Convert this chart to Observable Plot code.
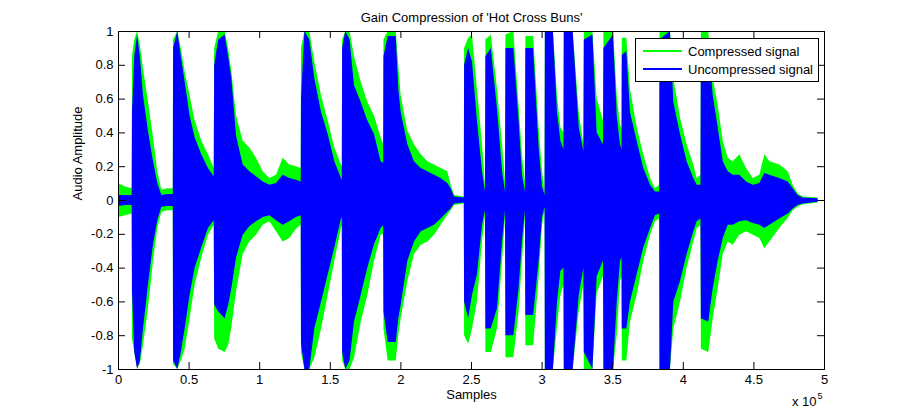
<!DOCTYPE html>
<html><head><meta charset="utf-8">
<script src="https://cdn.jsdelivr.net/npm/d3@7"></script>
<script src="https://cdn.jsdelivr.net/npm/@observablehq/plot@0.6"></script>
<style>
body{margin:0;background:#fff;}
#wrap{position:relative;width:910px;height:416px;font-family:"Liberation Sans",Arial,sans-serif;}
#legend{position:absolute;left:635px;top:38px;width:182px;height:42px;border:1px solid #000;background:#fff;font-size:13px;color:#000;}
.row{position:absolute;left:0;height:19px;white-space:nowrap;}
.sw{position:absolute;left:7px;top:8px;width:39px;height:2px;}
.lab{position:absolute;left:52px;top:1px;line-height:17px;}
</style></head>
<body><div id="wrap"></div>
<script>
// sample index (thousands of samples) of each envelope reading
const sampleK = [0,5,9.7,9.9,11.5,13.5,15.5,17.7,21.2,24.8,27.8,30.7,35,38.8,39.0,42,44.5,47.2,50.7,54.3,59,63.7,67.8,68.1,71,75.5,78,80.3,83.6,88.3,93,97.7,102.5,107.2,111.9,116.6,121.3,126,129.4,129.6,132,135.5,139,143.8,148.5,153.2,157.9,158.5,158.7,161,164,167.1,171.9,176.6,181.3,186,187.8,188.0,191,196.7,198.5,200.2,204.9,209.6,214.4,219.1,223.8,228.5,233.2,235.6,238,244.9,245.1,248,250.7,254.2,257.8,259.9,260.2,264,268.4,272,274.1,274.4,280,283.7,286.1,288.2,288.5,294,297.9,300.3,302.1,302.3,308,310.9,313.3,315.5,315.7,322,326.3,329.6,329.9,336,339,343.5,343.8,350.6,353.2,355.5,356.6,356.8,360,362.6,367.3,372,376.8,380.3,383.3,383.5,390.9,393.3,398,402.7,407.4,409.8,412.5,412.8,418,421.2,424.7,428.3,431.8,435.3,440,444.8,449.5,454.2,457.7,461.3,468.3,474.3,477.8,481.3,484.9,495.5];
const compressedUpper = [.10,.08,.07,.85,.95,1,.92,.78,.585,.37,.17,.06,.07,.07,.95,1,.90,.76,.62,.47,.35,.27,.19,.90,1,1,.90,.76,.50,.35,.31,.25,.17,.13,.15,.25,.21,.20,.19,.90,1,1,.82,.62,.47,.31,.21,.20,.95,1,1,.85,.70,.58,.50,.37,.33,.95,1,1,.80,.62,.41,.33,.27,.23,.21,.19,.17,.09,.03,.02,.90,.96,.98,.66,.33,.09,.95,.98,.66,.33,.11,.98,1,.56,.27,.11,.97,.97,.43,.17,.05,1,1,.62,.43,.40,1,1,.52,.33,1,1,.60,.47,1,1,.62,.45,.42,.96,.96,.66,.43,.27,.13,.07,.09,1,1,.72,.49,.33,.21,.13,.15,1,1,.72,.56,.35,.25,.23,.27,.19,.13,.15,.27,.23,.21,.17,.09,.04,.02,.015];
const uncompressedUpper = [.03,.03,.03,.52,.85,.98,.85,.62,.41,.23,.10,.03,.035,.035,.90,1,.85,.70,.50,.37,.27,.19,.14,.80,.95,.98,.85,.72,.38,.21,.17,.14,.11,.09,.10,.15,.13,.12,.11,.60,1,.95,.72,.52,.39,.23,.13,.12,.90,1,.95,.68,.58,.47,.39,.23,.22,.85,.97,.97,.66,.52,.33,.23,.19,.17,.15,.13,.10,.07,.02,.015,.80,.90,.82,.47,.17,.05,.85,.90,.54,.17,.05,.90,.90,.47,.15,.05,.90,.90,.31,.08,.03,1,1,.52,.35,.30,1,1,.43,.29,.95,.98,.40,.33,.90,.98,.50,.33,.30,.86,.88,.52,.35,.19,.09,.05,.05,.95,1,.58,.39,.23,.13,.09,.09,.95,.95,.62,.43,.23,.17,.15,.15,.11,.09,.10,.16,.15,.13,.11,.07,.03,.015,.01];
const uncompressedLower = [-.035,-.03,-.03,-.54,-.90,-1,-.95,-.76,-.50,-.26,-.12,-.04,-.035,-.035,-.95,-1,-.90,-.76,-.56,-.40,-.28,-.165,-.12,-.62,-.66,-.70,-.62,-.52,-.34,-.205,-.156,-.126,-.10,-.09,-.12,-.146,-.126,-.10,-.09,-.85,-1,-1,-.76,-.60,-.44,-.28,-.11,-.10,-.90,-1,-.95,-.72,-.56,-.40,-.26,-.165,-.15,-.66,-.84,-.84,-.70,-.62,-.36,-.245,-.185,-.165,-.146,-.11,-.07,-.05,-.02,-.015,-.60,-.70,-.56,-.44,-.146,-.06,-.76,-.76,-.64,-.245,-.06,-.80,-.80,-.52,-.245,-.06,-.68,-.68,-.36,-.10,-.04,-1,-1,-.60,-.42,-.40,-1,-1,-.56,-.40,-.90,-1,-.45,-.36,-1,-1,-.60,-.36,-.34,-.76,-.76,-.60,-.44,-.28,-.165,-.09,-.08,-1,-1,-.60,-.48,-.32,-.185,-.126,-.11,-.70,-.72,-.52,-.36,-.225,-.146,-.146,-.126,-.12,-.136,-.146,-.165,-.146,-.11,-.08,-.05,-.03,-.02,-.01];
const compressedLower = [-.10,-.09,-.08,-.82,-.90,-.99,-.97,-.86,-.64,-.36,-.165,-.07,-.06,-.06,-.97,-1,-.95,-.88,-.70,-.50,-.34,-.205,-.146,-.82,-.88,-.90,-.86,-.75,-.54,-.32,-.245,-.205,-.146,-.126,-.185,-.245,-.225,-.17,-.146,-.90,-1,-1,-.935,-.76,-.56,-.36,-.165,-.15,-.95,-1,-1,-.935,-.72,-.56,-.36,-.205,-.20,-.76,-.95,-.95,-.80,-.70,-.48,-.32,-.265,-.245,-.205,-.146,-.087,-.06,-.03,-.02,-.80,-.85,-.76,-.60,-.245,-.09,-.90,-.90,-.76,-.36,-.10,-.93,-.93,-.66,-.36,-.10,-.86,-.86,-.46,-.146,-.06,-1,-1,-.75,-.56,-.50,-1,-1,-.66,-.50,-1,-1,-.55,-.45,-1,-1,-.80,-.48,-.45,-.95,-.95,-.72,-.56,-.36,-.205,-.126,-.11,-1,-1,-.76,-.60,-.40,-.245,-.165,-.15,-.88,-.90,-.70,-.52,-.32,-.245,-.265,-.205,-.185,-.205,-.225,-.285,-.245,-.165,-.106,-.06,-.04,-.025,-.015];

const yTicks = [-1,-0.8,-0.6,-0.4,-0.2,0,0.2,0.4,0.6,0.8,1];
const xTicks = [0,50000,100000,150000,200000,250000,300000,350000,400000,450000,500000];
const xTickLabels = ["0","0.5","1","1.5","2","2.5","3","3.5","4","4.5","5"];
const seriesNames = ["Compressed signal","Uncompressed signal"];
const seriesColors = ["#00ff00","#0000ff"];

const rows = sampleK.map((k, i) => ({
  s: k * 1000,
  gT: compressedUpper[i], gB: compressedLower[i],
  bT: uncompressedUpper[i], bB: uncompressedLower[i]
}));

const W = 910, H = 416, mL = 118, mR = 86, mT = 31, mB = 47;
const plotW = W - mL - mR, plotH = H - mT - mB, tick = 7;

const chart = Plot.plot({
  width: W, height: H,
  marginLeft: mL, marginRight: mR, marginTop: mT, marginBottom: mB,
  style: {fontFamily: "'Liberation Sans', Arial, sans-serif", fontSize: "13px", background: "white", color: "black"},
  x: {domain: [0, 500000]},
  y: {domain: [-1, 1]},
  marks: [
    Plot.areaY(rows, {x: "s", y1: "gB", y2: "gT", fill: seriesColors[0]}),
    Plot.areaY(rows, {x: "s", y1: "bB", y2: "bT", fill: seriesColors[1]}),
    Plot.ruleY(yTicks, {y: d => d, insetRight: plotW - tick, stroke: "black"}),
    Plot.ruleY(yTicks, {y: d => d, insetLeft: plotW - tick, stroke: "black"}),
    Plot.ruleX(xTicks, {x: d => d, insetTop: plotH - tick, stroke: "black"}),
    Plot.ruleX(xTicks, {x: d => d, insetBottom: plotH - tick, stroke: "black"}),
    Plot.frame({stroke: "black"}),
    Plot.axisY({ticks: yTicks, tickSize: 0, tickPadding: 5, tickFormat: d => String(d), label: null, fontSize: 13}),
    Plot.axisX({ticks: xTicks, tickSize: 0, tickPadding: 5, tickFormat: d => xTickLabels[xTicks.indexOf(d)], label: null, fontSize: 13}),
    Plot.text(["Audio Amplitude"], {text: d => d, frameAnchor: "left", dx: -41, rotate: -90, fontSize: 13}),
    Plot.text(["Samples"], {text: d => d, frameAnchor: "bottom", dy: 29, fontSize: 13}),
    Plot.text(["Gain Compression of 'Hot Cross Buns'"], {text: d => d, frameAnchor: "top", dy: -19, fontSize: 13}),
    Plot.text(["x 10"], {text: d => d, frameAnchor: "bottom-right", dx: -8, dy: 36, textAnchor: "end", fontSize: 13}),
    Plot.text(["5"], {text: d => d, frameAnchor: "bottom-right", dx: -7, dy: 29, textAnchor: "start", fontSize: 9})
  ]
});

const wrap = document.getElementById("wrap");
wrap.appendChild(chart);

const legend = document.createElement("div");
legend.id = "legend";
seriesNames.forEach((name, i) => {
  const row = document.createElement("div");
  row.className = "row";
  row.style.top = (i === 0 ? 3 : 21) + "px";
  const sw = document.createElement("div");
  sw.className = "sw";
  sw.style.background = seriesColors[i];
  const t = document.createElement("div");
  t.className = "lab";
  t.textContent = name;
  row.appendChild(sw); row.appendChild(t);
  legend.appendChild(row);
});
wrap.appendChild(legend);
</script>
</body></html>
